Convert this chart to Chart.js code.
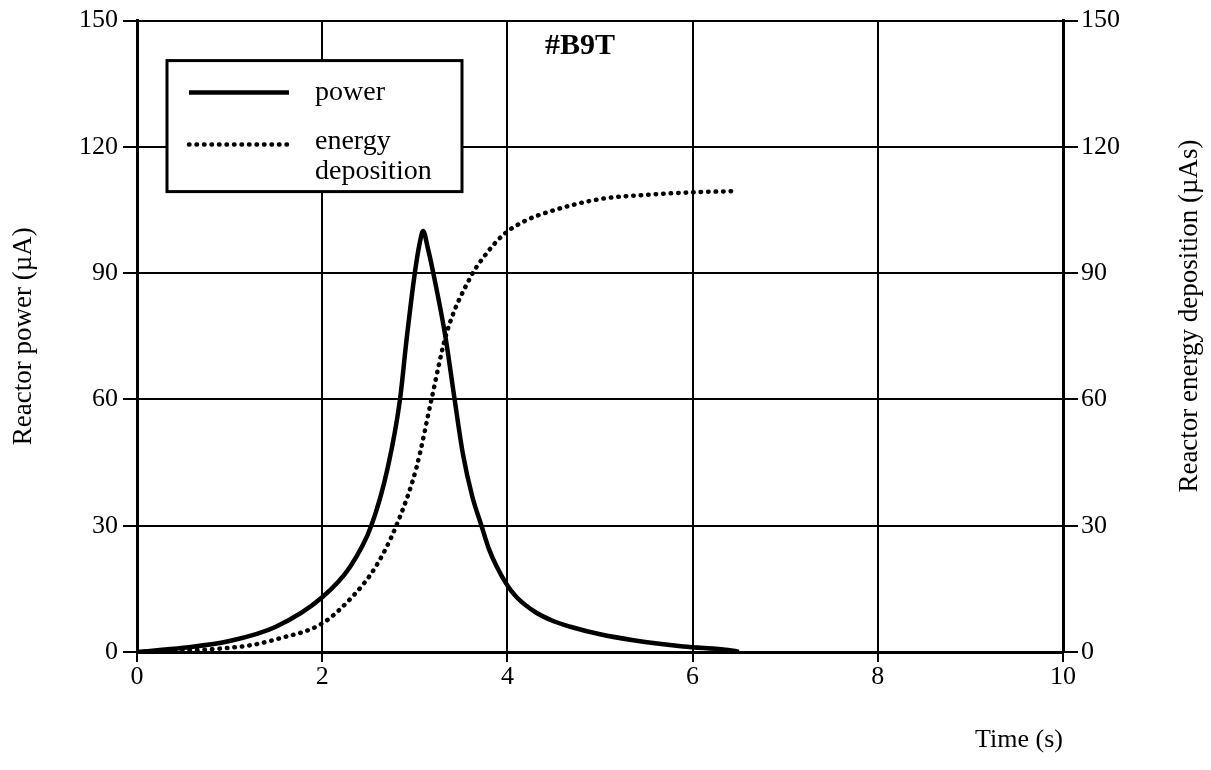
<!DOCTYPE html>
<html>
<head>
<meta charset="utf-8">
<script src="https://cdn.jsdelivr.net/npm/chart.js@4.4.1/dist/chart.umd.min.js"></script>
<style>
  html, body { margin: 0; padding: 0; background: #fff; }
  #wrap { width: 1211px; height: 770px; position: relative; }
</style>
</head>
<body>
<div id="wrap"><canvas id="chart"></canvas></div>
<script>
// DATA
const powerTime = [0, 0.5, 1, 1.5, 2, 2.3, 2.53, 2.71, 2.84, 2.91, 3.0, 3.05, 3.09, 3.14, 3.2, 3.33, 3.43, 3.52, 3.62, 3.72, 3.8, 3.88, 4.0, 4.1, 4.3, 4.5, 4.68, 5.0, 5.36, 5.9, 6.44, 6.5];
const powerValues = [0, 1, 2.6, 6, 13, 20.2, 30, 44, 60, 74, 90, 96.8, 100, 96, 90, 75, 60, 47, 37, 30, 24.5, 20.5, 15.8, 13, 9.5, 7.3, 6, 4.2, 2.8, 1.3, 0.3, 0];

const energyTime = [0, 0.5, 1, 1.25, 1.5, 2, 2.32, 2.57, 2.8, 3.02, 3.18, 3.34, 3.6, 3.74, 3.96, 4.2, 4.45, 5, 5.5, 6, 6.45];
const energyValues = [0, 0.3, 1, 1.7, 3, 6.8, 13, 20, 30, 44, 60, 75.5, 89, 93.7, 99.2, 102.5, 104.6, 107.6, 108.6, 109.2, 109.5];

const xTicks = [0, 2, 4, 6, 8, 10];
const yTicks = [0, 30, 60, 90, 120, 150];
const runLabel = "#B9T";
const rightTitle = "Reactor energy deposition (µAs)";

const FONT = "'Liberation Serif', 'Times New Roman', serif";
const ctx = document.getElementById("chart").getContext("2d");

const toPoints = (xs, ys) => xs.map((x, i) => ({ x, y: ys[i] }));

// legend box, run label and right-hand title (reads bottom to top)
const insidePlugin = {
  id: "inside",
  afterDraw(chart) {
    const c = chart.ctx;
    const a = chart.chartArea;
    c.save();
    c.fillStyle = "#000";

    // run label
    c.font = "bold 30px " + FONT;
    c.textAlign = "center";
    c.textBaseline = "middle";
    c.fillText(runLabel, a.left + 443, a.top + 26);

    // right axis title
    c.save();
    c.translate(1190, 316);
    c.rotate(-Math.PI / 2);
    c.font = "27px " + FONT;
    c.fillText(rightTitle, 0, 0);
    c.restore();

    // legend
    const bx = a.left + 30, by = a.top + 40, bw = 295, bh = 131;
    c.fillStyle = "#fff";
    c.fillRect(bx, by, bw, bh);
    c.strokeStyle = "#000";
    c.lineWidth = 3;
    c.strokeRect(bx, by, bw, bh);

    const ds = chart.data.datasets;
    const rows = [by + 32, by + 84];
    ds.forEach((d, i) => {
      c.beginPath();
      c.lineWidth = d.borderWidth;
      c.lineCap = d.borderCapStyle || "butt";
      c.setLineDash(d.borderDash || []);
      c.moveTo(bx + 22, rows[i]);
      c.lineTo(bx + 122, rows[i]);
      c.stroke();
    });
    c.setLineDash([]);
    c.font = "28px " + FONT;
    c.textAlign = "left";
    c.fillStyle = "#000";
    c.fillText("power", bx + 148, rows[0]);
    c.fillText("energy", bx + 148, rows[1] - 3);
    c.fillText("deposition", bx + 148, rows[1] + 27);
    c.restore();
  },
};

const gridCommon = {
  color: "#000",
  lineWidth: 2,
  tickColor: "#000",
  tickWidth: 2,
};

new Chart(ctx, {
  type: "line",
  data: {
    datasets: [
      {
        label: "power",
        data: toPoints(powerTime, powerValues),
        borderColor: "#000",
        borderWidth: 4.5,
        pointRadius: 0,
        cubicInterpolationMode: "monotone",
        yAxisID: "y",
      },
      {
        label: "energy deposition",
        data: toPoints(energyTime, energyValues),
        borderColor: "#000",
        borderWidth: 4.5,
        borderDash: [0.5, 7],
        borderCapStyle: "round",
        pointRadius: 0,
        cubicInterpolationMode: "monotone",
        yAxisID: "y2",
      },
    ],
  },
  options: {
    responsive: true,
    maintainAspectRatio: false,
    animation: false,
    layout: { padding: { top: 19, left: 0, right: 0, bottom: 0 } },
    plugins: {
      legend: { display: false },
      tooltip: { enabled: false },
    },
    scales: {
      x: {
        type: "linear",
        min: 0,
        max: 10,
        afterBuildTicks: (s) => { s.ticks = xTicks.map((v) => ({ value: v })); },
        afterFit: (s) => { s.height = 118; },
        grid: { ...gridCommon, tickLength: 10 },
        border: { color: "#000", width: 3 },
        ticks: { color: "#000", font: { family: FONT, size: 26 }, padding: 0, maxRotation: 0 },
        title: {
          display: true,
          text: "Time (s)",
          align: "end",
          color: "#000",
          font: { family: FONT, size: 26 },
          padding: { top: 0, bottom: 14 },
        },
      },
      y: {
        position: "left",
        min: 0,
        max: 150,
        afterBuildTicks: (s) => { s.ticks = yTicks.map((v) => ({ value: v })); },
        afterFit: (s) => { s.width = 137; },
        grid: { ...gridCommon, tickLength: 14 },
        border: { color: "#000", width: 3 },
        ticks: { color: "#000", font: { family: FONT, size: 26 }, padding: 5 },
        title: {
          display: true,
          text: "Reactor power (µA)",
          color: "#000",
          font: { family: FONT, size: 27 },
          padding: { top: 8, bottom: 0 },
        },
      },
      y2: {
        position: "right",
        min: 0,
        max: 150,
        afterBuildTicks: (s) => { s.ticks = yTicks.map((v) => ({ value: v })); },
        afterFit: (s) => { s.width = 148; },
        grid: { ...gridCommon, tickLength: 15, drawOnChartArea: false },
        border: { color: "#000", width: 3 },
        ticks: { color: "#000", font: { family: FONT, size: 26 }, padding: 3 },
        title: { display: false },
      },
    },
  },
  plugins: [insidePlugin],
});
</script>
</body>
</html>
